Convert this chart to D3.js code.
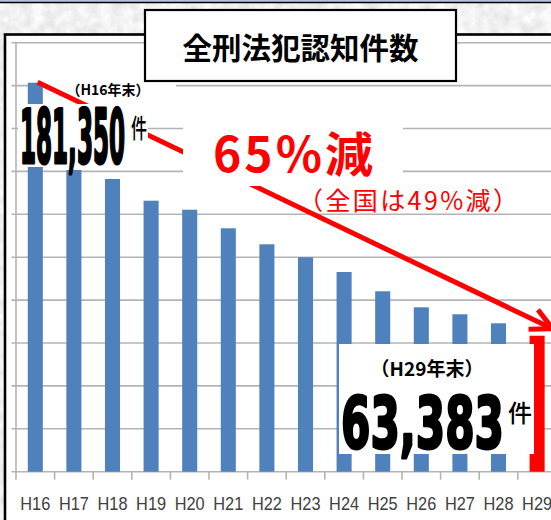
<!DOCTYPE html>
<html>
<head>
<meta charset="utf-8">
<script src="https://cdn.jsdelivr.net/npm/d3@7"></script>
<style>
  html, body { margin: 0; padding: 0; background: #e4e4e4; }
  svg { display: block; }
</style>
</head>
<body>
<svg id="chart" width="551" height="520"></svg>
<script>
const years = ["H16", "H17", "H18", "H19", "H20", "H21", "H22", "H23", "H24", "H25", "H26", "H27", "H28", "H29"];
const counts = [181350, 140650, 136460, 126340, 122140, 113470, 106010, 99950, 93100, 84100, 76640, 73380, 69180, 63383];
const gridValues = [0, 20000, 40000, 60000, 80000, 100000, 120000, 140000, 160000, 180000, 200000];
const titleText = "全刑法犯認知件数";
const firstYearText = "（H16年末）";
const firstValueText = "181,350";
const lastYearText = "（H29年末）";
const lastValueText = "63,383";
const unitText = "件";
const dropText = "65%減";
const nationalText = "（全国は49%減）";

const svg = d3.select("#chart");
const W = 551, H = 520;
const FONT_JP = "'Noto Sans CJK JP', 'Noto Sans', sans-serif";
const FONT_NUM = "'DejaVu Sans', sans-serif";

// textured paper background
const defs = svg.append("defs");
const tex = defs.append("filter").attr("id", "tex").attr("x", 0).attr("y", 0).attr("width", "100%").attr("height", "100%");
tex.append("feTurbulence").attr("type", "fractalNoise").attr("baseFrequency", 0.09).attr("numOctaves", 3).attr("seed", 4).attr("result", "n");
tex.append("feColorMatrix").attr("in", "n").attr("type", "matrix")
  .attr("values", "0.35 0 0 0 0.71  0.35 0 0 0 0.71  0.35 0 0 0 0.71  0 0 0 0 1");
svg.append("rect").attr("width", W).attr("height", H).attr("filter", "url(#tex)");

// strip of the box above
svg.append("rect").attr("x", 0).attr("y", 0).attr("width", W).attr("height", 2).attr("fill", "#b3c3dc");
svg.append("line").attr("x1", 0).attr("x2", W).attr("y1", 2.5).attr("y2", 2.5).attr("stroke", "#000").attr("stroke-width", 1.5);

// chart frame
svg.append("rect").attr("x", 5).attr("y", 34.5).attr("width", 570).attr("height", 520)
  .attr("fill", "#fff").attr("stroke", "#000").attr("stroke-width", 2.6);

const x = d3.scaleBand().domain(years).range([16, 16 + 38.6 * years.length]).padding(0);
const y = d3.scaleLinear().domain([0, 200000]).range([471.7, 42.7]);
const barW = x.step() * 0.39;
const gridColor = "#b4b4b4";

svg.append("g").selectAll("line").data(gridValues).join("line")
  .attr("x1", 11.5).attr("x2", 570)
  .attr("y1", (d) => y(d)).attr("y2", (d) => y(d))
  .attr("stroke", gridColor).attr("stroke-width", 1.6);

svg.append("line").attr("x1", x.range()[0]).attr("x2", x.range()[0])
  .attr("y1", y(200000)).attr("y2", y(0)).attr("stroke", gridColor).attr("stroke-width", 1.6);

const xAxis = svg.append("g").attr("transform", `translate(0,${y(0)})`)
  .call(d3.axisBottom(x).tickSize(8).tickSizeOuter(0).tickFormat((d) => d));
xAxis.select(".domain").remove();
xAxis.selectAll(".tick line").attr("stroke", gridColor).attr("stroke-width", 1.6)
  .attr("transform", `translate(${-x.step() / 2},0)`);
xAxis.selectAll(".tick text").attr("fill", "#404040").attr("dy", 0).attr("y", 38.8)
  .attr("x", -15).attr("text-anchor", "start")
  .attr("textLength", 30).attr("lengthAdjust", "spacingAndGlyphs")
  .style("font-family", "'Liberation Sans', sans-serif").style("font-size", "19px");

svg.append("g").selectAll("rect").data(years).join("rect")
  .attr("x", (d) => x(d) + (x.step() - barW) / 2)
  .attr("width", barW)
  .attr("y", (d, i) => y(counts[i]))
  .attr("height", (d, i) => y(0) - y(counts[i]))
  .attr("fill", (d, i) => (i === years.length - 1 ? "#ff0000" : "#4f81bd"));

// first-year label box
const xFirst = x(years[0]);
const yFirst = y(counts[0]);
svg.append("rect").attr("x", xFirst + 28).attr("y", yFirst + 1).attr("width", 132).attr("height", 21).attr("fill", "#fff");
svg.append("text").attr("x", xFirst + 92).attr("y", yFirst + 12.5).attr("text-anchor", "middle")
  .style("font-family", FONT_JP).style("font-size", "14px").style("font-weight", 700).text(firstYearText);

// red arrow from first to last bar
const ax0 = xFirst + x.step() * 0.56, ay0 = yFirst - 0.5;
const xLast = x(years[years.length - 1]);
const ax1 = xLast + x.step() * 0.9, ay1 = y(counts[counts.length - 1]) - 7;
const ang = Math.atan2(ay0 - ay1, ax0 - ax1);
const armL = 24, spread = 27 * Math.PI / 180;
svg.append("line").attr("x1", ax0).attr("y1", ay0).attr("x2", ax1).attr("y2", ay1)
  .attr("stroke", "#ff0000").attr("stroke-width", 5);
svg.append("path")
  .attr("d", `M${ax1 + armL * Math.cos(ang - spread)},${ay1 + armL * Math.sin(ang - spread)}L${ax1},${ay1}L${ax1 + armL * Math.cos(ang + spread)},${ay1 + armL * Math.sin(ang + spread)}`)
  .attr("fill", "none").attr("stroke", "#ff0000").attr("stroke-width", 5);

// 181,350 box
svg.append("rect").attr("x", 18).attr("y", 104).attr("width", 130).attr("height", 63).attr("fill", "#fff");
svg.append("text").attr("x", 20).attr("y", 163).attr("textLength", 105).attr("lengthAdjust", "spacingAndGlyphs")
  .attr("stroke", "#000").attr("stroke-width", 3.2).attr("stroke-linejoin", "round")
  .style("font-family", FONT_NUM).style("font-size", "75px").style("font-weight", 700).text(firstValueText);
svg.append("text").attr("x", 131).attr("y", 138).attr("textLength", 16).attr("lengthAdjust", "spacingAndGlyphs")
  .style("font-family", FONT_JP).style("font-size", "26px").style("font-weight", 500).text(unitText);

// 65% box
svg.append("rect").attr("x", 183).attr("y", 118).attr("width", 220).attr("height", 68).attr("fill", "#fff");
svg.append("text").attr("x", 213).attr("y", 172).attr("textLength", 160).attr("lengthAdjust", "spacing")
  .attr("fill", "#ff0000").style("font-family", FONT_JP).style("font-size", "48px").style("font-weight", 700).text(dropText);
svg.append("text").attr("x", 298).attr("y", 209.5).attr("textLength", 220).attr("lengthAdjust", "spacing")
  .attr("fill", "#ff0000").style("font-family", FONT_JP).style("font-size", "25px").style("font-weight", 400).text(nationalText);

// last-year box
svg.append("rect").attr("x", 339).attr("y", 344).attr("width", 195).attr("height", 110).attr("fill", "#fff");
svg.append("text").attr("x", 427).attr("y", 376).attr("text-anchor", "middle")
  .style("font-family", FONT_JP).style("font-size", "19px").style("font-weight", 700).text(lastYearText);
svg.append("text").attr("x", 341).attr("y", 448).attr("textLength", 163).attr("lengthAdjust", "spacingAndGlyphs")
  .attr("stroke", "#000").attr("stroke-width", 3).attr("stroke-linejoin", "round")
  .style("font-family", FONT_NUM).style("font-size", "72px").style("font-weight", 700).text(lastValueText);
svg.append("text").attr("x", 508).attr("y", 422)
  .style("font-family", FONT_JP).style("font-size", "24px").style("font-weight", 500).text(unitText);

// title box
svg.append("rect").attr("x", 145).attr("y", 10).attr("width", 311).attr("height", 71)
  .attr("fill", "#fff").attr("stroke", "#000").attr("stroke-width", 2.2);
svg.append("text").attr("x", 300.5).attr("y", 59).attr("text-anchor", "middle")
  .style("font-family", FONT_JP).style("font-size", "29.5px").style("font-weight", 700).text(titleText);
</script>
</body>
</html>
